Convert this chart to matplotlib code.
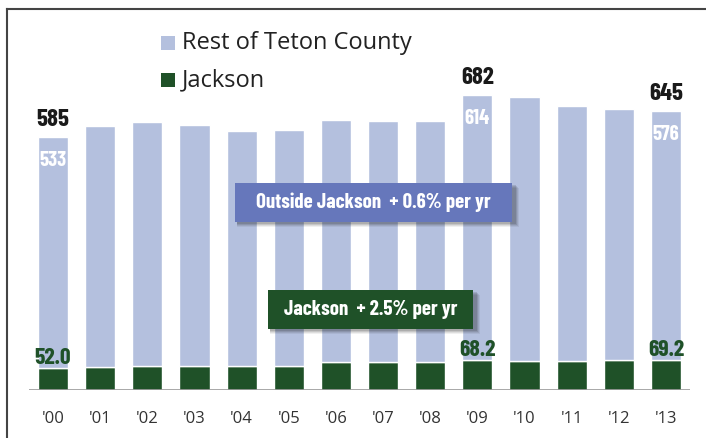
import matplotlib
matplotlib.use("Agg")
import matplotlib.pyplot as plt
from matplotlib.patches import Rectangle
from matplotlib.lines import Line2D

# data
years = ["'00", "'01", "'02", "'03", "'04", "'05", "'06",
         "'07", "'08", "'09", "'10", "'11", "'12", "'13"]
jackson = [52.0, 53.5, 55.0, 55.0, 55.0, 55.0, 64.0,
           64.5, 64.5, 68.2, 68.0, 68.0, 69.5, 69.2]
rest = [533, 556.5, 565, 558, 543, 546, 559,
        557.5, 557.5, 614, 609, 588, 580.5, 576]
total_labels = {0: "585", 9: "682", 13: "645"}
rest_labels = {0: "533", 9: "614", 13: "576"}
jackson_labels = {0: "52.0", 9: "68.2", 13: "69.2"}

rest_color = "#b4c0de"
jackson_color = "#1f5128"
box_blue = "#6677bb"
narrow = ["Barlow Condensed", "DejaVu Sans"]
plain = ["Open Sans", "DejaVu Sans"]

fig = plt.figure(figsize=(7.06, 4.38), dpi=100)
W, H = 706, 438

# axes placed so the baseline sits where the original one does
ax = fig.add_axes([29.4 / W, 48 / H, 660.2 / W, 382 / H])
ax.set_xlim(-0.5, 13.5)
ax.set_ylim(0, 883)
for s in ax.spines.values():
    s.set_visible(False)
ax.set_yticks([])
ax.tick_params(axis="x", length=0, pad=15, labelsize=12, labelcolor="#333333")

x = list(range(len(years)))
ax.bar(x, jackson, width=0.64, color=jackson_color, edgecolor="white", linewidth=1, zorder=2)
ax.bar(x, rest, width=0.64, bottom=jackson, color=rest_color, edgecolor="white", linewidth=1, zorder=2)
ax.set_xticks(x)
ax.set_xticklabels(years, family=plain)
ax.axhline(0, color="#999999", lw=1.2, zorder=3)

for i, lab in total_labels.items():
    ax.annotate(lab, (i, jackson[i] + rest[i]), xytext=(0, 4), textcoords="offset points",
                ha="center", va="bottom", fontsize=18, fontweight=700,
                family=narrow, color="#1a1a1a")
for i, lab in rest_labels.items():
    ax.annotate(lab, (i, jackson[i] + rest[i]), xytext=(0, -10), textcoords="offset points",
                ha="center", va="top", fontsize=15, fontweight=700,
                family=narrow, color="white")
for i, lab in jackson_labels.items():
    ax.annotate(lab, (i, jackson[i]), xytext=(0, 0), textcoords="offset points",
                ha="center", va="bottom", fontsize=17, fontweight=700,
                family=narrow, color=jackson_color)


def callout(x0, y0, x1, y1, color, text):
    # pixel coords measured from the top-left corner; soft shadow first
    for k, a in [(5, 0.06), (4, 0.08), (3, 0.10), (2, 0.12)]:
        fig.add_artist(Rectangle(((x0 + 2) / W, 1 - (y1 + k) / H), (x1 - x0 + k) / W, (y1 - y0) / H,
                                 transform=fig.transFigure, facecolor="black", alpha=a,
                                 edgecolor="none", zorder=4))
    fig.add_artist(Rectangle((x0 / W, 1 - y1 / H), (x1 - x0) / W, (y1 - y0) / H,
                             transform=fig.transFigure, facecolor=color, edgecolor="none", zorder=5))
    fig.text((x0 + x1) / 2 / W, 1 - (y0 + y1) / 2 / H, text, ha="center", va="center",
             color="white", fontsize=15, fontweight=700, family=narrow, zorder=6)


callout(235, 183, 512, 222, box_blue, "Outside Jackson  + 0.6% per yr")
callout(268, 290, 473, 329, jackson_color, "Jackson  + 2.5% per yr")

# legend
fig.add_artist(Rectangle((161 / W, 1 - 50 / H), 14 / W, 14 / H, transform=fig.transFigure,
                         facecolor=rest_color, edgecolor="none"))
fig.add_artist(Rectangle((161 / W, 1 - 87 / H), 14 / W, 14 / H, transform=fig.transFigure,
                         facecolor=jackson_color, edgecolor="none"))
fig.text(182 / W, 1 - 43 / H, "Rest of Teton County", ha="left", va="center",
         fontsize=17, color="#222222", family=plain)
fig.text(182 / W, 1 - 80 / H, "Jackson", ha="left", va="center",
         fontsize=17, color="#222222", family=plain)

# frame lines on the left and top
fig.add_artist(Line2D([6.5 / W, 6.5 / W], [0, 1 - 9 / H], transform=fig.transFigure, color="#444444", lw=1.5))
fig.add_artist(Line2D([6.5 / W, 1], [1 - 9 / H, 1 - 9 / H], transform=fig.transFigure, color="#444444", lw=1.5))

fig.savefig("out.png", dpi=100)
